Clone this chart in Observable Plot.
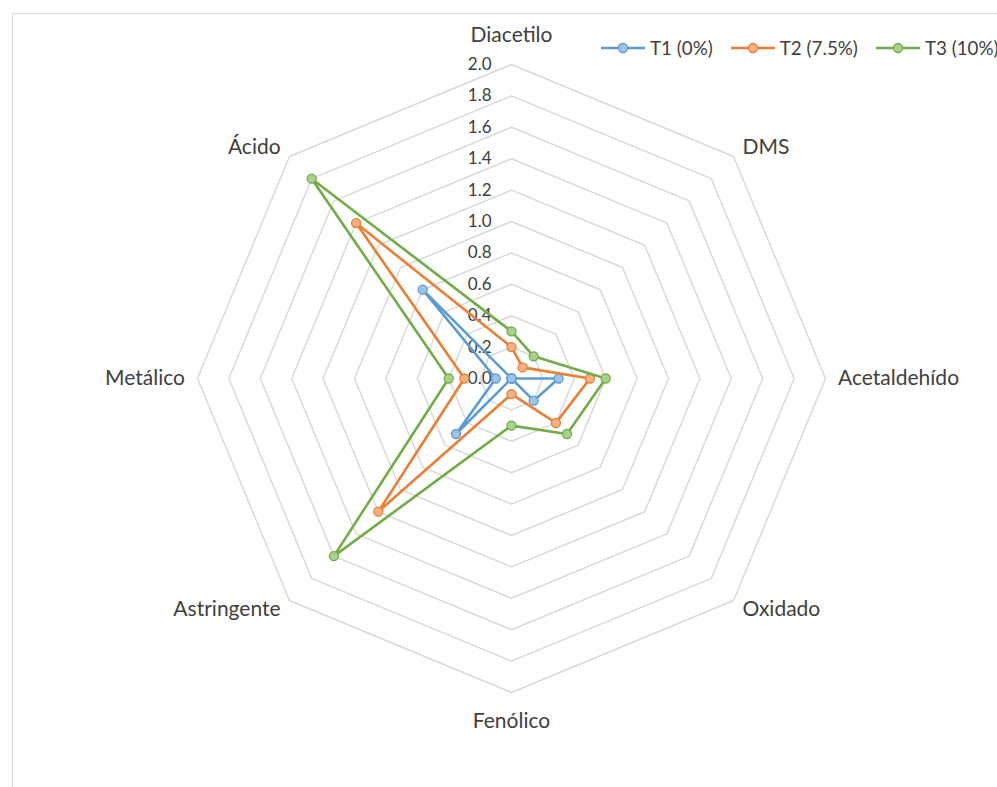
<!DOCTYPE html>
<html><head><meta charset="utf-8">
<script src="https://cdn.jsdelivr.net/npm/d3@7"></script>
<script src="https://cdn.jsdelivr.net/npm/@observablehq/plot@0.6"></script>
<style>
html,body{margin:0;padding:0;background:#fff;}
body{width:997px;height:787px;overflow:hidden;position:relative;font-family:Lato,"Open Sans",sans-serif;}
#border{position:absolute;left:12px;top:13px;width:1000px;height:800px;border:1.5px solid #d9d9d9;box-sizing:border-box;}
#chart{position:absolute;left:0;top:0;}
#legend{position:absolute;top:36px;left:600px;display:flex;align-items:center;font-size:18.8px;color:#404040;white-space:nowrap;}
#legend .item{display:flex;align-items:center;margin-right:17px;}
#legend svg{margin-right:4px;}
</style>
</head><body>
<div id="border"></div>
<div id="chart"></div>
<div id="legend"></div>
<script>
const attributes = ["Diacetilo","DMS","Acetaldehído","Oxidado","Fenólico","Astringente","Metálico","Ácido"];
const seriesNames = ["T1 (0%)","T2 (7.5%)","T3 (10%)"];
const t1 = [0.0, 0.0, 0.3, 0.2, 0.0, 0.5, 0.1, 0.8];
const t2 = [0.2, 0.1, 0.5, 0.4, 0.1, 1.2, 0.3, 1.4];
const t3 = [0.3, 0.2, 0.6, 0.5, 0.3, 1.6, 0.4, 1.8];
const tickValues = [0.0,0.2,0.4,0.6,0.8,1.0,1.2,1.4,1.6,1.8,2.0];
const colors = ["#5b9bd5","#ed7d31","#70ad47"];
const markerFill = ["#9dc3e6","#f4b183","#a9d18e"];

const W = 997, H = 787, cx = 511, cy = 378, k = 157;
const n = attributes.length;
const ang = i => i * 2 * Math.PI / n;
const px = (r, i) => r * Math.sin(ang(i));
const py = (r, i) => r * Math.cos(ang(i));

// grid rings
const rings = [];
tickValues.filter(v => v > 0).forEach(v => {
  for (let i = 0; i <= n; i++) rings.push({v, x: px(v, i % n), y: py(v, i % n)});
});

// series
const allSeries = [t1, t2, t3];
const seriesPts = allSeries.map((vals, s) => {
  const pts = [];
  for (let i = 0; i <= n; i++) pts.push({s: seriesNames[s], x: px(vals[i % n], i % n), y: py(vals[i % n], i % n)});
  return pts;
});

// labels
const labels = attributes.map((a, i) => {
  const vertical = (i === 0 || i === 4);
  const r = vertical ? 2.185 : 2.08;
  return {a, i, x: px(r, i), y: py(r, i), anchor: vertical ? "middle" : (i < 4 ? "start" : "end")};
});

const marks = [
  Plot.line(rings, {x: "x", y: "y", z: "v", stroke: "#d9d9d9", strokeWidth: 1.5}),
  Plot.text(tickValues, {x: () => 0, y: d => d, text: d => d.toFixed(1), textAnchor: "end", dx: -20, fontSize: 17, fill: "#404040"}),
];
seriesPts.forEach((pts, s) => {
  marks.push(Plot.line(pts, {x: "x", y: "y", stroke: colors[s], strokeWidth: 2.6, strokeLinejoin: "round"}));
  marks.push(Plot.dot(pts.slice(0, n), {x: "x", y: "y", r: 4.5, fill: markerFill[s], stroke: colors[s], strokeWidth: 1.3}));
});
["middle","start","end"].forEach(anc => {
  marks.push(Plot.text(labels.filter(d => d.anchor === anc), {x: "x", y: "y", text: "a", textAnchor: anc, fontSize: 21, fill: "#404040"}));
});

const chart = Plot.plot({
  width: W, height: H,
  margin: 0,
  x: {domain: [-cx / k, (W - cx) / k], range: [0, W], axis: null},
  y: {domain: [-(H - cy) / k, cy / k], range: [H, 0], axis: null},
  style: {fontFamily: "Lato, 'Open Sans', sans-serif", background: "transparent"},
  marks
});
document.getElementById("chart").appendChild(chart);

const leg = document.getElementById("legend");
seriesNames.forEach((name, s) => {
  const item = document.createElement("div");
  item.className = "item";
  item.innerHTML = `<svg width="46" height="14"><line x1="1" y1="7" x2="45" y2="7" stroke="${colors[s]}" stroke-width="2.6"/><circle cx="23" cy="7" r="4.5" fill="${markerFill[s]}" stroke="${colors[s]}" stroke-width="1.3"/></svg><span>${name}</span>`;
  leg.appendChild(item);
});
</script>
</body></html>
